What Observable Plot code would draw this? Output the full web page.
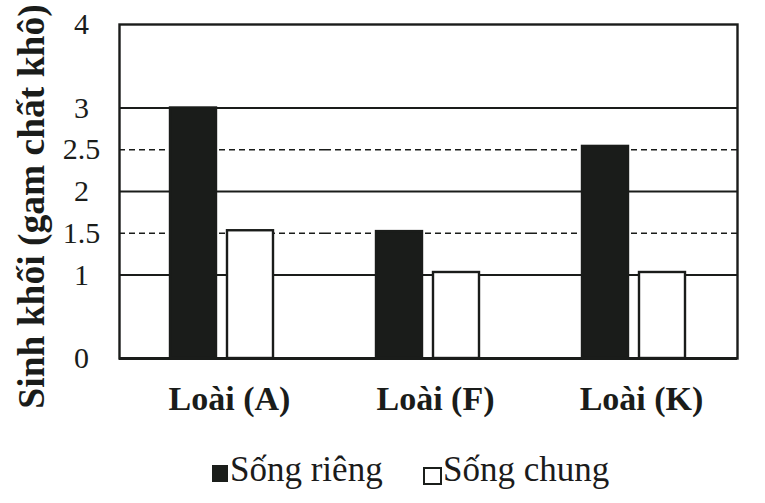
<!DOCTYPE html>
<html>
<head>
<meta charset="utf-8">
<script src="https://cdn.jsdelivr.net/npm/d3@7"></script>
<script src="https://cdn.jsdelivr.net/npm/@observablehq/plot@0.6"></script>
<style>
  html, body { margin: 0; padding: 0; background: white; }
  #chart svg { display: block; }
  #chart svg text { font-family: "Liberation Serif", serif; }
  #legend { position: relative; width: 765px; height: 73px; font-family: "Liberation Serif", serif; font-size: 35px; line-height: 35px; color: #1b1b1b; }
  #legend span { position: absolute; white-space: nowrap; }
</style>
</head>
<body>
<div id="chart"></div>
<div id="legend">
  <span style="left:212px;top:35px;width:16px;height:17px;background:#1b1e1b"></span>
  <span id="lab0" style="left:230px;top:22px"></span>
  <span style="left:423px;top:37px;width:15px;height:14px;border:2px solid #1b1e1b;background:white"></span>
  <span id="lab1" style="left:443px;top:22px"></span>
</div>
<script>
const species = ["Loài (A)", "Loài (F)", "Loài (K)"];
const series = ["Sống riêng", "Sống chung"];
const songRieng = [3, 1.52, 2.54];
const songChung = [1.53, 1.03, 1.03];
const yTicks = [0, 1, 1.5, 2, 2.5, 3, 4];
const solidGrid = [1, 2, 3];
const dashedGrid = [1.5, 2.5];
const yLabel = "Sinh khối (gam chất khô)";

const data = species.flatMap((s, i) => [
  {species: s, series: series[0], value: songRieng[i]},
  {species: s, series: series[1], value: songChung[i]}
]);

const ink = "#1a1c1a";
const serif = "'Liberation Serif', serif";

const chart = Plot.plot({
  width: 765,
  height: 430,
  marginLeft: 118,
  marginRight: 27,
  marginTop: 24,
  marginBottom: 72,
  style: {fontFamily: serif, background: "white", color: ink},
  fx: {domain: species, padding: 0, label: null, axis: null},
  x: {domain: series, paddingInner: 0.19, paddingOuter: 0.875, axis: null},
  y: {domain: [0, 4], label: null, axis: null},
  marks: [
    Plot.ruleY(solidGrid, {stroke: ink, strokeWidth: 2}),
    Plot.ruleY(dashedGrid, {stroke: ink, strokeWidth: 1.6, strokeDasharray: "6,4"}),
    Plot.barY(data, {
      fx: "species", x: "series", y: "value",
      fill: d => d.series === series[0] ? ink : "white",
      stroke: ink, strokeWidth: 2.4
    }),
    Plot.frame({facet: "super", stroke: ink, strokeWidth: 2.4}),
    Plot.ruleY([0], {stroke: ink, strokeWidth: 3}),
    Plot.axisY({ticks: yTicks, tickFormat: d => String(d), tickSize: 0, tickPadding: 38, textAnchor: "middle", fontSize: 30, fontFamily: serif, label: null}),
    Plot.axisFx({anchor: "bottom", tickSize: 0, tickPadding: 27, dx: 7, fontSize: 34, fontWeight: "bold", fontFamily: serif, label: null}),
    Plot.text([yLabel], {facet: "super", frameAnchor: "left", textAnchor: "middle", rotate: -90, dx: -88, dy: 15, fontSize: 37.5, fontWeight: "bold", fontFamily: serif, fill: ink})
  ]
});
document.getElementById("chart").appendChild(chart);
document.getElementById("lab0").textContent = series[0];
document.getElementById("lab1").textContent = series[1];
</script>
</body>
</html>
